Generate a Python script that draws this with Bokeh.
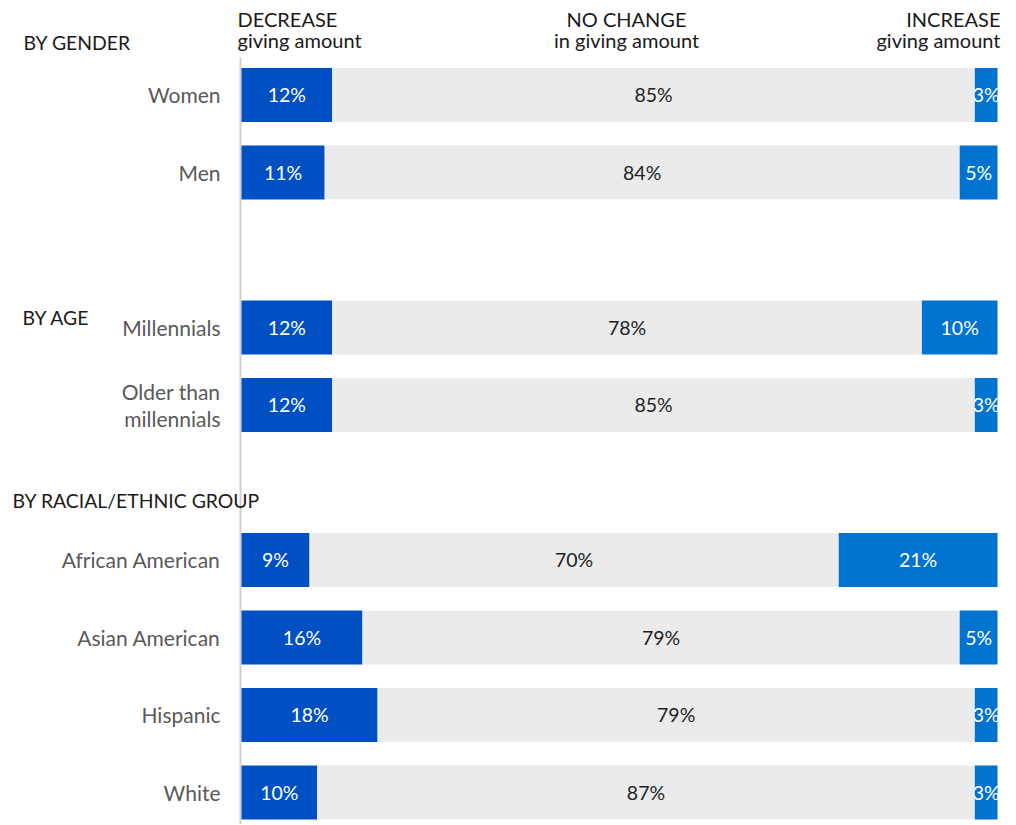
import numpy as np
from bokeh.plotting import figure
from bokeh.models import ColumnDataSource, Range1d, Label, LabelSet
from bokeh.core.properties import value
from bokeh.embed import file_html
from bokeh.resources import INLINE

# ---- data ----
groups = ["BY GENDER", "BY AGE", "BY RACIAL/ETHNIC GROUP"]
group_members = [
    ["Women", "Men"],
    ["Millennials", "Older than\nmillennials"],
    ["African American", "Asian American", "Hispanic", "White"],
]
decrease = [12, 11, 12, 12, 9, 16, 18, 10]
no_change = [85, 84, 78, 85, 70, 79, 79, 87]
increase = [3, 5, 10, 3, 21, 5, 3, 3]
col_headers = ["DECREASE\ngiving amount", "NO CHANGE\nin giving amount", "INCREASE\ngiving amount"]

# ---- row positions: one blank row between groups ----
categories, ypos = [], []
row = 0
for members in group_members:
    for m in members:
        categories.append(m)
        ypos.append(row)
        row += 1
    row += 1

dec = np.array(decrease, float)
nc = np.array(no_change, float)
inc = np.array(increase, float)

src = ColumnDataSource(dict(
    y=ypos, cat=categories,
    d0=np.zeros_like(dec), d1=dec,
    n0=dec, n1=dec + nc,
    i0=100 - inc, i1=np.full_like(inc, 100.0),
    dx=dec / 2, nx=dec + nc / 2, ix=100 - inc / 2,
    dl=[f"{v:g}%" for v in decrease],
    nl=[f"{v:g}%" for v in no_change],
    il=[f"{v:g}%" for v in increase],
))

W, H = 1014, 824
FONT = "Lato"
p = figure(width=W, height=H, output_backend="svg", toolbar_location=None,
           x_range=Range1d(-31.878, 102.249), y_range=Range1d(9.413, -1.219),
           x_axis_location=None, y_axis_location=None,
           min_border_left=0, min_border_right=0,
           min_border_top=0, min_border_bottom=0)
p.grid.visible = False
p.outline_line_color = None
p.background_fill_color = "white"
p.border_fill_color = "white"

# vertical baseline
p.segment(x0=[-0.13], y0=[-0.484], x1=[-0.13], y1=[9.413], line_color="#D0D0D0", line_width=2)

bh = 0.697
p.hbar(y="y", left="d0", right="d1", height=bh, source=src,
       fill_color="#0050C3", line_color=None)
p.hbar(y="y", left="n0", right="n1", height=bh, source=src,
       fill_color="#EBEBEB", line_color=None)
p.hbar(y="y", left="i0", right="i1", height=bh, source=src,
       fill_color="#0073D1", line_color=None)

for xcol, tcol, color in [("dx", "dl", "white"), ("nx", "nl", "#1F1F1F"), ("ix", "il", "white")]:
    p.add_layout(LabelSet(x=xcol, y="y", text=tcol, source=src,
                          text_align="center", text_baseline="middle",
                          text_font=value(FONT), text_font_size="19.5px",
                          text_color=color))

# category labels
for c, y in zip(categories, ypos):
    p.add_layout(Label(x=220, x_units="screen", y=y, y_units="data", text=c,
                       text_align="right", text_baseline="middle",
                       text_font=FONT, text_font_size="21px",
                       text_color="#595959", text_line_height=1.05))

# group headers
group_screen = [(23, H - 42), (22, H - 317), (12, H - 500)]
for g, (gx, gy) in zip(groups, group_screen):
    p.add_layout(Label(x=gx, y=gy, x_units="screen", y_units="screen", text=g,
                       text_align="left", text_baseline="middle",
                       text_font=FONT, text_font_size="19.4px",
                       text_color="#1A1A1A"))

# column headers
col_pos = [(237, "left"), (626, "center"), (1000, "right")]
for t, (cx, al) in zip(col_headers, col_pos):
    p.add_layout(Label(x=cx, y=H - 29, x_units="screen", y_units="screen", text=t,
                       text_align=al, text_baseline="middle",
                       text_font=FONT, text_font_size="20px",
                       text_color="#1A1A1A", text_line_height=0.9))

open("out.html", "w").write(file_html(p, INLINE))
